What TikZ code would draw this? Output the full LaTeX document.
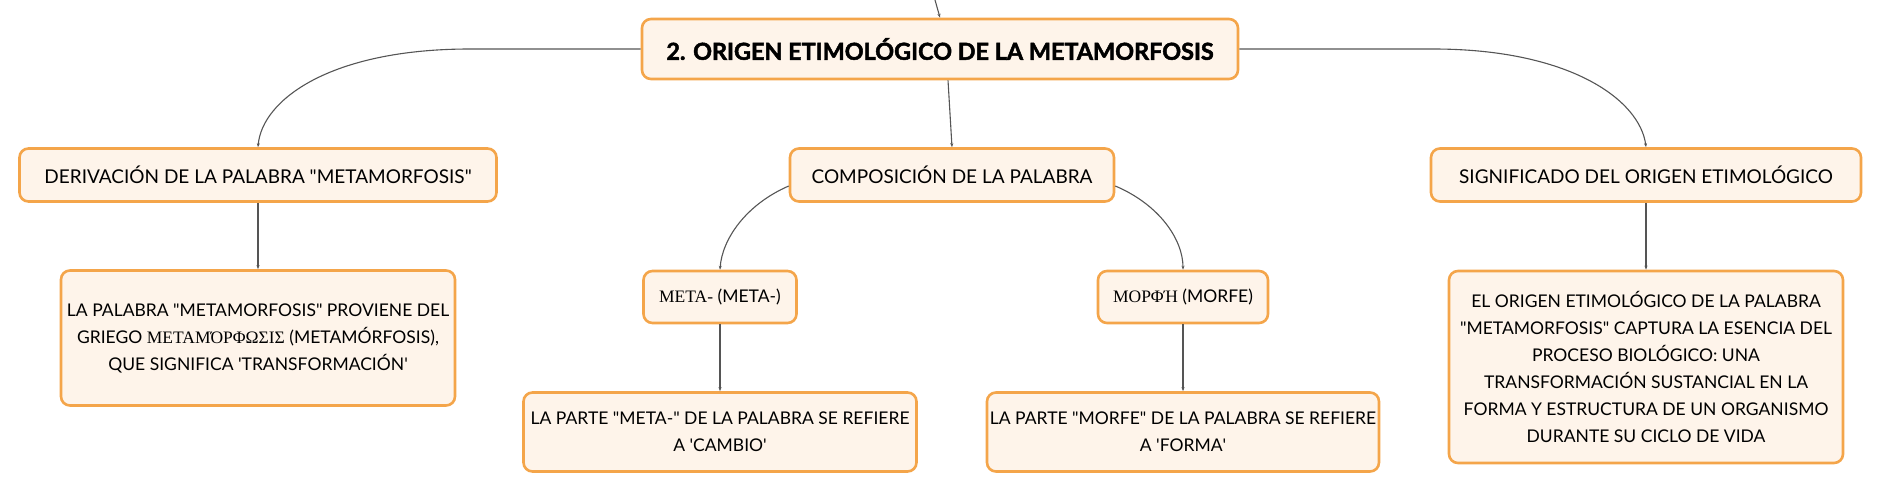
\documentclass[tikz,border=0pt]{standalone}
\usepackage{fontspec}
\setmainfont{Lato}
\newfontfamily\greekfont{Liberation Serif}
\newfontfamily\heavyfont{Lato}[FakeBold=2]
\usetikzlibrary{arrows.meta}
\definecolor{boxline}{HTML}{F4A54A}
\definecolor{boxfill}{HTML}{FEF4EA}
\definecolor{linkgray}{HTML}{555555}
\newcommand\dq{\textquotedbl}
\newcommand\sq{\textquotesingle}
\begin{document}
\begin{tikzpicture}[x=1pt,y=-1pt,
  box/.style={draw=boxline,fill=boxfill,line width=2.6pt,rounded corners=9pt,
    align=center,inner sep=0pt,font=\fontsize{17.5}{27}\selectfont},
  headbox/.style={box,minimum height=53pt,font=\fontsize{19}{23}\selectfont},
  link/.style={draw=linkgray,line width=1.1pt,-{Stealth[length=4pt,width=3pt]}}]
\useasboundingbox (0,0) rectangle (1881,492);
% main node
\node[box,minimum width=596pt,minimum height=60pt,font=\fontsize{23.4}{27}\heavyfont\bfseries] (root) at (940,49) {2. ORIGEN ETIMOLÓGICO DE LA METAMORFOSIS};
% second level
\node[headbox,minimum width=477pt] (deriv) at (258,175) {DERIVACIÓN DE LA PALABRA \dq METAMORFOSIS\dq};
\node[headbox,minimum width=324pt] (compo) at (952,175) {COMPOSICIÓN DE LA PALABRA};
\node[headbox,minimum width=430pt] (signi) at (1646,175) {SIGNIFICADO DEL ORIGEN ETIMOLÓGICO};
% third level
\node[box,minimum width=394pt,minimum height=135pt] (derivtxt) at (258,338) {LA PALABRA \dq METAMORFOSIS\dq{} PROVIENE DEL\\GRIEGO {\greekfont ΜΕΤΑΜΌΡΦΩΣΙΣ} (METAMÓRFOSIS),\\QUE SIGNIFICA \sq TRANSFORMACIÓN\sq};
\node[box,minimum width=153pt,minimum height=52pt] (meta) at (720,297) {{\greekfont ΜΕΤΑ-} (META-)};
\node[box,minimum width=170pt,minimum height=52pt] (morfe) at (1183,297) {{\greekfont ΜΟΡΦΉ} (MORFE)};
\node[box,minimum width=393pt,minimum height=79pt] (metatxt) at (720,432) {LA PARTE \dq META-\dq{} DE LA PALABRA SE REFIERE\\A \sq CAMBIO\sq};
\node[box,minimum width=392pt,minimum height=79pt] (morfetxt) at (1183,432) {LA PARTE \dq MORFE\dq{} DE LA PALABRA SE REFIERE\\A \sq FORMA\sq};
\node[box,minimum width=394pt,minimum height=192pt] (signitxt) at (1646,367) {EL ORIGEN ETIMOLÓGICO DE LA PALABRA\\\dq METAMORFOSIS\dq{} CAPTURA LA ESENCIA DEL\\PROCESO BIOLÓGICO: UNA\\TRANSFORMACIÓN SUSTANCIAL EN LA\\FORMA Y ESTRUCTURA DE UN ORGANISMO\\DURANTE SU CICLO DE VIDA};
% connectors
\coordinate (above) at (935,0);
\draw[link] (above) -- (root.north);
\draw[link] ([xshift=8pt]root.south) -- (compo.north);
\draw[link] (root.west) -- (470,49) .. controls (330,49) and (262,100) .. (deriv.north);
\draw[link] (root.east) -- (1433,49) .. controls (1570,49) and (1640,100) .. (signi.north);
\draw[link] ([yshift=-11pt]compo.west) .. controls (745,205) and (722,240) .. (meta.north);
\draw[link] ([yshift=-11pt]compo.east) .. controls (1160,205) and (1183,240) .. (morfe.north);
\draw[link] (deriv.south) -- (derivtxt.north);
\draw[link] (meta.south) -- (metatxt.north);
\draw[link] (morfe.south) -- (morfetxt.north);
\draw[link] (signi.south) -- (signitxt.north);
\end{tikzpicture}
\end{document}
